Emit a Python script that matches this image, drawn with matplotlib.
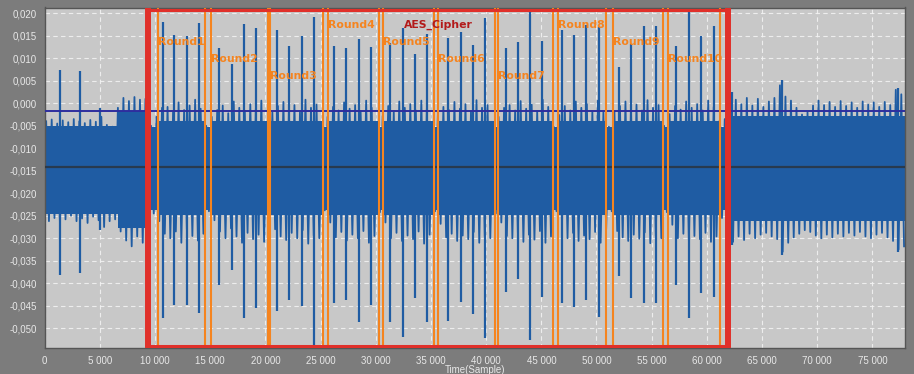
import numpy as np
import matplotlib
matplotlib.use("Agg")
import matplotlib.pyplot as plt
from matplotlib.ticker import FuncFormatter, MultipleLocator

# ---------------- data ----------------
bin_width = 500  # samples per envelope bin

trace_hi = [
    -0.0040, -0.0036, -0.0045, -0.0038, -0.0042, -0.0035, -0.0040, -0.0044, -0.0037, -0.0041,
    -0.0030, -0.0048, -0.0052, -0.0010, 0.0012, 0.0005, 0.0014, 0.0008, 0.0010, -0.0050,
    -0.0030, -0.0010, -0.0008, -0.0020, 0.0002, -0.0015, -0.0005, 0.0008, -0.0012, -0.0050,
    -0.0030, -0.0015, -0.0005, -0.0022, 0.0004, -0.0010, -0.0018, -0.0002, -0.0012, 0.0006,
    -0.0050, -0.0020, -0.0006, 0.0003, -0.0015, -0.0004, -0.0020, 0.0008, -0.0010, -0.0003,
    -0.0052, -0.0030, -0.0008, -0.0016, 0.0002, -0.0012, -0.0004, -0.0020, 0.0006, -0.0010,
    -0.0050, -0.0028, -0.0006, -0.0018, 0.0004, -0.0010, -0.0002, -0.0016, 0.0006, -0.0012,
    -0.0052, -0.0026, -0.0008, -0.0015, 0.0003, -0.0012, -0.0002, -0.0018, 0.0007, -0.0010,
    -0.0004, -0.0048, -0.0030, -0.0010, -0.0004, -0.0016, 0.0005, -0.0012, -0.0003, -0.0018,
    0.0008, -0.0008, -0.0052, -0.0026, -0.0006, -0.0016, 0.0004, -0.0010, -0.0002, -0.0018,
    0.0006, -0.0020, -0.0052, -0.0018, -0.0006, 0.0004, -0.0012, -0.0003, -0.0016, 0.0007,
    -0.0010, -0.0004, -0.0050, -0.0024, -0.0006, -0.0014, 0.0004, -0.0010, -0.0002, -0.0016,
    0.0006, -0.0008, -0.0040, -0.0035, 0.0020, 0.0008, -0.0002, 0.0012, -0.0005, 0.0010,
    -0.0008, 0.0004, 0.0012, 0.0040, 0.0015, 0.0006, -0.0010, -0.0025, -0.0020, -0.0005,
    0.0006, -0.0004, 0.0003, -0.0008, 0.0005, -0.0006, 0.0002, -0.0010, 0.0004, -0.0003,
    0.0002, -0.0008, 0.0003, -0.0004, 0.0030, 0.0020,
]
trace_lo = [
    -0.0262, -0.0255, -0.0268, -0.0258, -0.0250, -0.0262, -0.0256, -0.0266, -0.0252, -0.0260,
    -0.0275, -0.0262, -0.0258, -0.0285, -0.0305, -0.0318, -0.0296, -0.0310, -0.0290, -0.0245,
    -0.0262, -0.0290, -0.0300, -0.0285, -0.0310, -0.0280, -0.0295, -0.0305, -0.0290, -0.0240,
    -0.0260, -0.0285, -0.0300, -0.0278, -0.0296, -0.0310, -0.0288, -0.0302, -0.0292, -0.0308,
    -0.0240, -0.0280, -0.0296, -0.0304, -0.0288, -0.0300, -0.0282, -0.0312, -0.0294, -0.0300,
    -0.0238, -0.0265, -0.0298, -0.0286, -0.0305, -0.0292, -0.0300, -0.0284, -0.0310, -0.0295,
    -0.0242, -0.0265, -0.0300, -0.0288, -0.0306, -0.0294, -0.0302, -0.0285, -0.0312, -0.0292,
    -0.0240, -0.0268, -0.0298, -0.0290, -0.0306, -0.0294, -0.0302, -0.0286, -0.0310, -0.0296,
    -0.0300, -0.0245, -0.0265, -0.0295, -0.0300, -0.0288, -0.0308, -0.0292, -0.0303, -0.0284,
    -0.0310, -0.0296, -0.0240, -0.0268, -0.0300, -0.0288, -0.0306, -0.0294, -0.0302, -0.0286,
    -0.0310, -0.0280, -0.0240, -0.0284, -0.0298, -0.0306, -0.0292, -0.0301, -0.0287, -0.0311,
    -0.0295, -0.0300, -0.0242, -0.0270, -0.0300, -0.0290, -0.0306, -0.0295, -0.0302, -0.0288,
    -0.0308, -0.0296, -0.0255, -0.0275, -0.0308, -0.0296, -0.0304, -0.0290, -0.0300, -0.0292,
    -0.0288, -0.0296, -0.0302, -0.0330, -0.0310, -0.0298, -0.0290, -0.0282, -0.0286, -0.0294,
    -0.0300, -0.0292, -0.0298, -0.0290, -0.0296, -0.0288, -0.0294, -0.0286, -0.0296, -0.0300,
    -0.0292, -0.0288, -0.0298, -0.0306, -0.0325, -0.0318,
]

# solid core of the band per region (hi, lo)
core_pre = (-0.0050, -0.0245)
core_bump = (-0.0018, -0.0278)
core_gap = (-0.0052, -0.0238)
core_round = (-0.0040, -0.0248)
core_post = (-0.0028, -0.0262)
bump_start = 6640
trace_end = 78000

# isolated spikes
pre_spike_x = [1378, 3190, 5003]
pre_spike_top = [0.0074, 0.00725, -0.0010]
pre_spike_bot = [-0.0382, -0.0378, -0.0282]

aes_spike_x = [10685, 11737, 12888, 14003, 15815, 16939, 18081, 19168,
               21017, 22105, 23282, 24370, 26237, 27316, 28431, 29546,
               31286, 32437, 33551, 34666, 36569, 37693, 38780, 39895,
               41798, 42886, 43973, 45061, 46873, 47961, 49094, 50226,
               52039, 53153, 54277, 55410, 57233, 58357, 59498, 60622]
aes_spike_top = [0.0181, 0.0152, 0.0149, 0.0178, 0.0122, 0.0087, 0.0176, 0.0167,
                 0.0162, 0.0128, 0.0150, 0.0191, 0.0127, 0.0122, 0.0142, 0.0125,
                 0.0133, 0.0167, 0.0109, 0.0155, 0.0146, 0.0159, 0.0130, 0.0190,
                 0.0123, 0.0137, 0.0208, 0.0139, 0.0163, 0.0151, 0.0175, 0.0170,
                 0.0080, 0.0132, 0.0171, 0.0172, 0.0128, 0.0206, 0.0150, 0.0172]
aes_spike_bot = [-0.0478, -0.0449, -0.0448, -0.0467, -0.0405, -0.0370, -0.0478, -0.0455,
                 -0.0461, -0.0438, -0.0450, -0.0539, -0.0444, -0.0437, -0.0486, -0.0448,
                 -0.0487, -0.0519, -0.0433, -0.0487, -0.0485, -0.0442, -0.0468, -0.0521,
                 -0.0419, -0.0390, -0.0526, -0.0430, -0.0443, -0.0452, -0.0437, -0.0474,
                 -0.0383, -0.0433, -0.0444, -0.0443, -0.0404, -0.0478, -0.0422, -0.0430]

post_spike_x = [62300, 66840, 77350]
post_spike_top = [0.0025, 0.0052, 0.0034]
post_spike_bot = [-0.0315, -0.0337, -0.0330]

round_names = ["Round1", "Round2", "Round3", "Round4", "Round5",
               "Round6", "Round7", "Round8", "Round9", "Round10"]
round_start = [10286, 15035, 20410, 25693, 30678, 35663, 41100, 46484, 51468, 56507]
round_end = [14519, 20201, 25240, 30288, 35300, 40801, 46085, 50861, 56000, 61192]

cipher_name = "AES_Cipher"
cipher_start = 9353
cipher_end = 61918

threshold_level = -0.0017
mean_level = -0.0142

# ---------------- style ----------------
W, H, DPI = 914, 374, 100
fig = plt.figure(figsize=(W / DPI, H / DPI), dpi=DPI)
fig.patch.set_facecolor("#7c7c7c")
ax_l, ax_r, ax_t, ax_b = 44.8, 905.0, 7.5, 348.0
ax = fig.add_axes([ax_l / W, (H - ax_b) / H, (ax_r - ax_l) / W, (ax_b - ax_t) / H])
ax.set_facecolor("#c8c8c8")
ax.set_xlim(0, 77960)
ax.set_ylim(-0.0544, 0.0213)

trace_color = "#1f5ca3"

# band core
edges = [0, bump_start, cipher_start]
vals = [core_pre, core_bump, core_gap]
for s, e in zip(round_start, round_end):
    edges += [s, e]
    vals += [core_round, core_gap]
edges += [cipher_end, trace_end]
vals += [core_post]
for i in range(len(vals)):
    ax.fill_between([edges[i], edges[i + 1]], vals[i][1], vals[i][0],
                    color=trace_color, lw=0, zorder=2)

# band fringe: the min/max envelope drawn as an oscillating trace
centers = np.arange(len(trace_hi)) * bin_width + bin_width / 2
zig_x = np.column_stack([centers - bin_width / 4, centers + bin_width / 4]).ravel()
zig_y = np.column_stack([trace_hi, trace_lo]).ravel()
ax.plot(zig_x, zig_y, color=trace_color, lw=1.3, zorder=2)

# spikes
for xs, tops, bots in [(pre_spike_x, pre_spike_top, pre_spike_bot),
                       (aes_spike_x, aes_spike_top, aes_spike_bot),
                       (post_spike_x, post_spike_top, post_spike_bot)]:
    ax.vlines(xs, bots, tops, color=trace_color, lw=1.6, zorder=2)

# horizontal reference lines
ax.axhline(threshold_level, color="#2e2e9e", lw=1.4, zorder=3)
ax.axhline(mean_level, color="#2a3440", lw=1.6, alpha=0.85, zorder=3)

# round markers
orange = "#f5841f"
for s, e in zip(round_start, round_end):
    ax.axvline(s, color=orange, lw=1.5, zorder=4)
    ax.axvline(e, color=orange, lw=1.5, zorder=4)

# cipher rectangle
red = "#e0302a"
ax.axvline(cipher_start, color=red, lw=4.3, zorder=5)
ax.axvline(cipher_end, color=red, lw=4.3, zorder=5)
ax.plot([cipher_start, cipher_end], [0.0208, 0.0208], color=red, lw=2.2, zorder=5,
        solid_capstyle="butt")
ax.plot([cipher_start, cipher_end], [-0.0540, -0.0540], color=red, lw=2.2, zorder=5,
        solid_capstyle="butt")

# labels
label_levels = [0.0136, 0.0098, 0.0061, 0.0174]
for i, (name, s) in enumerate(zip(round_names, round_start)):
    ax.text(s, label_levels[i % 4], name, color=orange, fontsize=7.8,
            fontweight="bold", ha="left", va="center", zorder=6)
ax.text((cipher_start + cipher_end) / 2, 0.0174, cipher_name, color="#b31a1a",
        fontsize=7.8, fontweight="bold", ha="center", va="center", zorder=6)

# axes formatting
ax.xaxis.set_major_locator(MultipleLocator(5000))
ax.yaxis.set_major_locator(MultipleLocator(0.005))
ax.xaxis.set_major_formatter(FuncFormatter(lambda v, p: f"{int(round(v)):,}".replace(",", " ")))
def yfmt(v, p):
    s = f"{v:.3f}".replace(".", ",")
    return "0,000" if s in ("-0,000",) else s
ax.yaxis.set_major_formatter(FuncFormatter(yfmt))
ax.tick_params(length=0, colors="#e8e8e8", labelsize=7, pad=6)
for lab in ax.get_xticklabels() + ax.get_yticklabels():
    lab.set_family("Liberation Sans")
ax.set_axisbelow(True)
ax.grid(True, color="#f2f2f2", lw=0.8, ls=(0, (4, 3)), alpha=0.9)
for sp in ax.spines.values():
    sp.set_color("#555555")
    sp.set_linewidth(1.0)

fig.text(((ax_l + ax_r) / 2) / W, (H - 370) / H, "Time(Sample)", color="#e8e8e8",
         fontsize=7, family="Liberation Sans", ha="center", va="center")

fig.savefig("out.png", dpi=DPI, facecolor=fig.get_facecolor())
